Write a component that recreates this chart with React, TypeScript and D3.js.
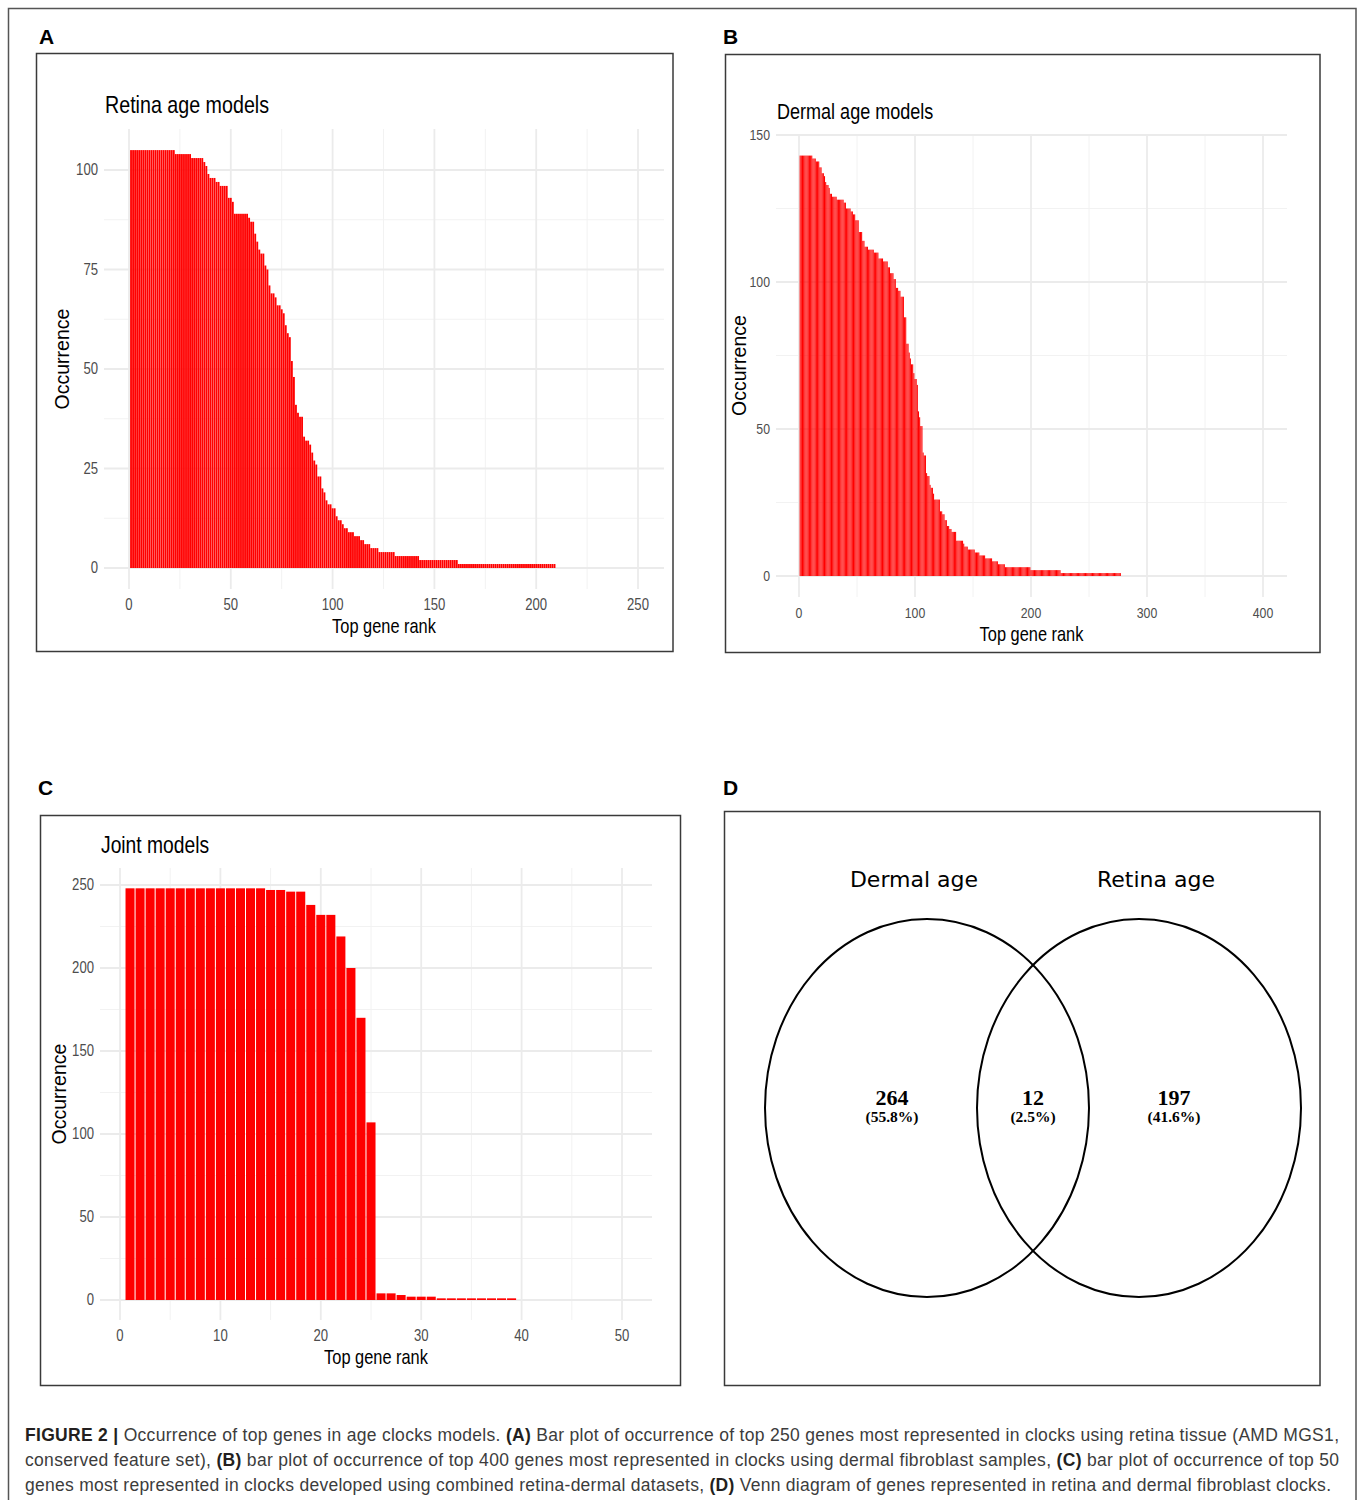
import React from "react";
import * as d3 from "d3";

// occurrence per top gene rank (rank 1 first)
const retinaOccurrence = [
  105, 105, 105, 105, 105, 105, 105, 105, 105, 105,
  105, 105, 105, 105, 105, 105, 105, 105, 105, 105,
  105, 105, 104, 104, 104, 104, 104, 104, 104, 104,
  103, 103, 103, 103, 103, 103, 102, 101, 99, 98,
  98, 98, 97, 97, 96, 96, 96, 96, 93, 93,
  92, 89, 89, 89, 89, 89, 89, 89, 88, 87,
  87, 84, 82, 80, 79, 79, 76, 75, 71, 69,
  69, 68, 66, 66, 65, 64, 61, 59, 58, 52,
  48, 41, 39, 38, 38, 33, 32, 32, 31, 29,
  27, 26, 23, 23, 20, 19, 17, 16, 16, 15,
  15, 13, 12, 12, 11, 10, 10, 9, 9, 9,
  8, 8, 8, 7, 7, 6, 6, 6, 5, 5,
  5, 5, 4, 4, 4, 4, 4, 4, 4, 4,
  3, 3, 3, 3, 3, 3, 3, 3, 3, 3,
  3, 3, 2, 2, 2, 2, 2, 2, 2, 2,
  2, 2, 2, 2, 2, 2, 2, 2, 2, 2,
  2, 1, 1, 1, 1, 1, 1, 1, 1, 1,
  1, 1, 1, 1, 1, 1, 1, 1, 1, 1,
  1, 1, 1, 1, 1, 1, 1, 1, 1, 1,
  1, 1, 1, 1, 1, 1, 1, 1, 1, 1,
  1, 1, 1, 1, 1, 1, 1, 1, 1,
];

const dermalOccurrence = [
  143, 143, 143, 143, 143, 143, 143, 143, 143, 143,
  143, 142, 142, 142, 141, 141, 141, 139, 139, 137,
  137, 136, 134, 133, 133, 132, 130, 130, 129, 129,
  129, 129, 128, 128, 128, 128, 128, 128, 127, 127,
  125, 125, 125, 125, 124, 124, 123, 123, 121, 121,
  121, 117, 117, 117, 114, 114, 112, 112, 112, 111,
  111, 111, 111, 111, 110, 110, 110, 110, 108, 108,
  108, 108, 107, 107, 107, 107, 105, 105, 103, 103,
  103, 101, 101, 98, 98, 97, 97, 95, 95, 95,
  88, 88, 79, 79, 76, 74, 72, 72, 69, 67,
  67, 65, 56, 54, 51, 51, 42, 41, 41, 35,
  34, 34, 31, 30, 30, 28, 26, 26, 26, 26,
  26, 22, 22, 21, 21, 19, 19, 17, 17, 16,
  16, 15, 15, 15, 15, 12, 12, 12, 12, 12,
  12, 11, 10, 10, 10, 9, 9, 9, 9, 9,
  9, 8, 8, 8, 8, 7, 7, 7, 7, 7,
  6, 6, 6, 6, 6, 6, 5, 5, 5, 5,
  5, 4, 4, 4, 4, 4, 4, 3, 3, 3,
  3, 3, 3, 3, 3, 3, 3, 3, 3, 3,
  3, 3, 3, 3, 3, 3, 3, 3, 3, 2,
  2, 2, 2, 2, 2, 2, 2, 2, 2, 2,
  2, 2, 2, 2, 2, 2, 2, 2, 2, 2,
  2, 2, 2, 2, 2, 1, 1, 1, 1, 1,
  1, 1, 1, 1, 1, 1, 1, 1, 1, 1,
  1, 1, 1, 1, 1, 1, 1, 1, 1, 1,
  1, 1, 1, 1, 1, 1, 1, 1, 1, 1,
  1, 1, 1, 1, 1, 1, 1, 1, 1, 1,
  1, 1, 1, 1, 1, 1, 1,
];

const jointOccurrence = [
  248, 248, 248, 248, 248, 248, 248, 248, 248, 248,
  248, 248, 248, 248, 247, 247, 246, 246, 238, 232,
  232, 219, 200, 170, 107, 4, 4, 3, 2, 2,
  2, 1, 1, 1, 1, 1, 1, 1, 1,
];

const retinaXTicks = [0, 50, 100, 150, 200, 250];
const retinaYTicks = [0, 25, 50, 75, 100];
const dermalXTicks = [0, 100, 200, 300, 400];
const dermalYTicks = [0, 50, 100, 150];
const jointXTicks = [0, 10, 20, 30, 40, 50];
const jointYTicks = [0, 50, 100, 150, 200, 250];

const vennSets = ["Dermal age", "Retina age"];
const vennCounts = [264, 12, 197];
const vennPercents = ["(55.8%)", "(2.5%)", "(41.6%)"];

const captionLines: [string, boolean][][] = [
  [
    ["FIGURE 2 |", true],
    [" Occurrence of top genes in age clocks models. ", false],
    ["(A)", true],
    [" Bar plot of occurrence of top 250 genes most represented in clocks using retina tissue (AMD MGS1,", false],
  ],
  [
    ["conserved feature set), ", false],
    ["(B)", true],
    [" bar plot of occurrence of top 400 genes most represented in clocks using dermal fibroblast samples, ", false],
    ["(C)", true],
    [" bar plot of occurrence of top 50", false],
  ],
  [
    ["genes most represented in clocks developed using combined retina-dermal datasets, ", false],
    ["(D)", true],
    [" Venn diagram of genes represented in retina and dermal fibroblast clocks.", false],
  ],
];

const SANS = "'Liberation Sans', Arial, Helvetica, sans-serif";
const NARROW_SCALE = 0.82; // no narrow face installed, squeeze the regular one

interface Box {
  left: number;
  right: number;
  top: number;
  bottom: number;
}

// condensed text: the ggplot panels were set in a narrow Helvetica
function NText(props: {
  x: number;
  y: number;
  size: number;
  anchor?: "start" | "middle" | "end";
  baseline?: string;
  fill?: string;
  children: React.ReactNode;
}) {
  return (
    <text
      transform={`translate(${props.x},${props.y}) scale(${NARROW_SCALE},1)`}
      textAnchor={props.anchor || "start"}
      dominantBaseline={props.baseline as any}
      fontFamily={SANS}
      fontSize={props.size}
      fill={props.fill || "#000"}
    >
      {props.children}
    </text>
  );
}

interface BarPanelProps {
  values: number[];
  title: string;
  titlePos: [number, number, number];
  xTicks: number[];
  yTicks: number[];
  xPx: [number, number];
  yPx: [number, number];
  panel: Box;
  tickSize: number;
  xTitleY: number;
  yTitleX: number;
}

function minorTicks(ticks: number[], lo: number, hi: number) {
  const step = ticks[1] - ticks[0];
  const out: number[] = [];
  for (let v = ticks[0] - step / 2; v <= hi; v += step) {
    if (v >= lo) out.push(v);
  }
  return out;
}

function BarPanel(p: BarPanelProps) {
  const { panel } = p;
  const x = d3
    .scaleLinear()
    .domain([p.xTicks[0], p.xTicks[p.xTicks.length - 1]])
    .range(p.xPx);
  const y = d3
    .scaleLinear()
    .domain([p.yTicks[0], p.yTicks[p.yTicks.length - 1]])
    .range(p.yPx);

  const xMinor = minorTicks(p.xTicks, x.invert(panel.left), x.invert(panel.right));
  const yMinor = minorTicks(p.yTicks, y.invert(panel.bottom), y.invert(panel.top));
  const bw = x(0.9) - x(0);

  return (
    <g>
      {/* grid */}
      {yMinor.map((t) => (
        <line key={"ym" + t} x1={panel.left} x2={panel.right} y1={y(t)} y2={y(t)} stroke="#f2f2f2" strokeWidth={1} />
      ))}
      {xMinor.map((t) => (
        <line key={"xm" + t} x1={x(t)} x2={x(t)} y1={panel.top} y2={panel.bottom} stroke="#f2f2f2" strokeWidth={1} />
      ))}
      {p.yTicks.map((t) => (
        <line key={"y" + t} x1={panel.left} x2={panel.right} y1={y(t)} y2={y(t)} stroke="#ebebeb" strokeWidth={1.8} />
      ))}
      {p.xTicks.map((t) => (
        <line key={"x" + t} x1={x(t)} x2={x(t)} y1={panel.top} y2={panel.bottom} stroke="#ebebeb" strokeWidth={1.8} />
      ))}

      {/* bars */}
      {p.values.map((v, i) => (
        <rect key={i} x={x(i + 1 - 0.45)} y={y(v)} width={bw} height={y(0) - y(v)} fill="#ff0000" />
      ))}

      {/* tick labels */}
      {p.yTicks.map((t) => (
        <NText key={"yl" + t} x={panel.left - 6} y={y(t)} size={p.tickSize} anchor="end" baseline="central" fill="#4d4d4d">
          {t}
        </NText>
      ))}
      {p.xTicks.map((t) => (
        <NText key={"xl" + t} x={x(t)} y={panel.bottom + 16} size={p.tickSize} anchor="middle" baseline="central" fill="#4d4d4d">
          {t}
        </NText>
      ))}

      {/* titles */}
      <NText x={p.titlePos[0]} y={p.titlePos[1]} size={p.titlePos[2]}>
        {p.title}
      </NText>
      <NText x={(panel.left + panel.right) / 2} y={p.xTitleY} size={20} anchor="middle">
        Top gene rank
      </NText>
      <text
        transform={`translate(${p.yTitleX},${(panel.top + panel.bottom) / 2}) rotate(-90)`}
        textAnchor="middle"
        fontFamily={SANS}
        fontSize={19.5}
        fill="#000"
      >
        Occurrence
      </text>
    </g>
  );
}

function Venn() {
  const cy = 1108;
  const circles = [
    { cx: 927, rx: 162 },
    { cx: 1139, rx: 162 },
  ];
  const labelX = [914, 1156];
  const countX = [892, 1033, 1174];
  return (
    <g>
      {circles.map((c, i) => (
        <ellipse key={i} cx={c.cx} cy={cy} rx={c.rx} ry={189} fill="none" stroke="#000" strokeWidth={2} />
      ))}
      {vennSets.map((s, i) => (
        <text
          key={s}
          x={labelX[i]}
          y={887}
          textAnchor="middle"
          fontFamily="'DejaVu Sans', Verdana, sans-serif"
          fontSize={22}
          fill="#000"
        >
          {s}
        </text>
      ))}
      {vennCounts.map((c, i) => (
        <g key={i} fontFamily="'Liberation Serif', 'Times New Roman', serif" fontWeight="bold" textAnchor="middle" fill="#000">
          <text x={countX[i]} y={1105} fontSize={22}>
            {c}
          </text>
          <text x={countX[i]} y={1122} fontSize={15.5}>
            {vennPercents[i]}
          </text>
        </g>
      ))}
    </g>
  );
}

export default function App() {
  const frames: Box[] = [
    { left: 36.5, right: 673, top: 53.5, bottom: 651.5 },
    { left: 725.5, right: 1320, top: 54.5, bottom: 652.5 },
    { left: 40.5, right: 680.5, top: 815.5, bottom: 1385.5 },
    { left: 724.5, right: 1320, top: 811.5, bottom: 1385.5 },
  ];
  const letters = [
    ["A", 39, 44],
    ["B", 723, 44],
    ["C", 38, 795],
    ["D", 723, 795],
  ] as [string, number, number][];
  const captionY = [1441, 1466, 1491];
  const captionW = [1314, 1314, 1306];

  return (
    <svg
      width={1358}
      height={1500}
      style={{ position: "absolute", left: 0, top: 0, background: "#fff" }}
    >
      <rect x={0} y={0} width={1358} height={1500} fill="#fff" />
      <rect x={8.5} y={8.5} width={1347.5} height={1510} fill="none" stroke="#555" strokeWidth={1.5} />

      {frames.map((f, i) => (
        <rect
          key={i}
          x={f.left}
          y={f.top}
          width={f.right - f.left}
          height={f.bottom - f.top}
          fill="#fff"
          stroke="#3a3a3a"
          strokeWidth={1.5}
        />
      ))}
      {letters.map(([l, lx, ly]) => (
        <text key={l} x={lx} y={ly} fontFamily={SANS} fontWeight="bold" fontSize={21} fill="#000">
          {l}
        </text>
      ))}

      <BarPanel
        values={retinaOccurrence}
        title="Retina age models"
        titlePos={[105, 113, 24]}
        xTicks={retinaXTicks}
        yTicks={retinaYTicks}
        xPx={[129, 638]}
        yPx={[568, 170]}
        panel={{ left: 104, right: 664, top: 129, bottom: 589 }}
        tickSize={16}
        xTitleY={633}
        yTitleX={69}
      />
      <BarPanel
        values={dermalOccurrence}
        title="Dermal age models"
        titlePos={[777, 119, 22]}
        xTicks={dermalXTicks}
        yTicks={dermalYTicks}
        xPx={[799, 1263]}
        yPx={[576, 135]}
        panel={{ left: 776, right: 1287, top: 134, bottom: 597 }}
        tickSize={15}
        xTitleY={641}
        yTitleX={746}
      />
      <BarPanel
        values={jointOccurrence}
        title="Joint models"
        titlePos={[101, 853, 23.5]}
        xTicks={jointXTicks}
        yTicks={jointYTicks}
        xPx={[120, 622]}
        yPx={[1300, 885]}
        panel={{ left: 100, right: 652, top: 868, bottom: 1320 }}
        tickSize={16}
        xTitleY={1364}
        yTitleX={66}
      />

      <Venn />

      {captionLines.map((line, i) => (
        <text
          key={i}
          x={25}
          y={captionY[i]}
          fontFamily={SANS}
          fontSize={17.5}
          fill="#3c3c3c"
          textLength={captionW[i]}
          lengthAdjust="spacing"
        >
          {line.map(([s, b], j) => (
            <tspan key={j} fontWeight={b ? "bold" : "normal"} fill={b ? "#231f20" : "#3c3c3c"}>
              {s}
            </tspan>
          ))}
        </text>
      ))}
    </svg>
  );
}
